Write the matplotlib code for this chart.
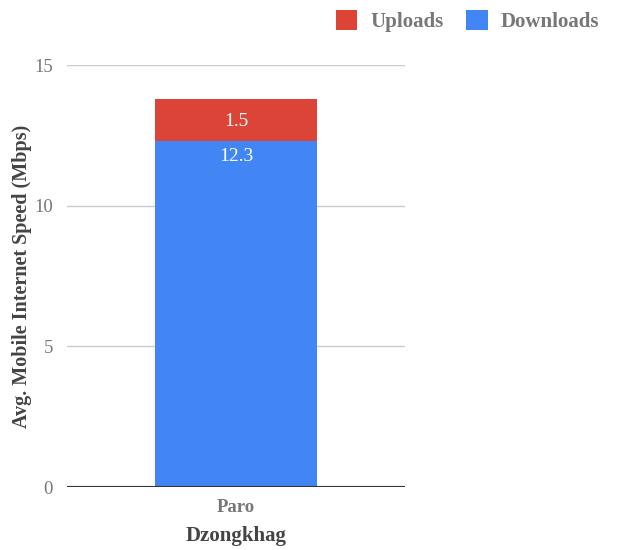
import matplotlib
matplotlib.use("Agg")
import matplotlib.pyplot as plt
from matplotlib.patches import Patch

categories = ["Paro"]
downloads = [12.3]
uploads = [1.5]
yticks = [0, 5, 10, 15]

plt.rcParams['font.family'] = ['Liberation Serif', 'DejaVu Serif']

fig = plt.figure(figsize=(6.24, 5.5), dpi=100)
ax = fig.add_axes([67/624, 1-487/550, (405-67)/624, (487-65)/550])

red = "#db4437"
blue = "#4285f4"
x = list(range(len(categories)))
w = 0.482
b1 = ax.bar(x, downloads, width=w, color=blue, zorder=3)
b2 = ax.bar(x, uploads, width=w, bottom=downloads, color=red, zorder=3)

for i in x:
    ax.text(i, downloads[i] + uploads[i] / 2 - 0.05, f"{uploads[i]}", ha="center", va="center",
            color="white", fontsize=14, zorder=4)
    ax.text(i, downloads[i] - 0.25, f"{downloads[i]}", ha="center", va="top",
            color="white", fontsize=14, zorder=4)

ax.set_xlim(-0.5, 0.5)
ax.set_ylim(0, 15)
ax.set_yticks(yticks)
ax.set_yticklabels([str(t) for t in yticks])
ax.set_xticks(x)
ax.set_xticklabels(categories, fontweight="bold", color="#777777", fontsize=13.5)
ax.tick_params(axis="y", length=0, pad=10, labelcolor="#777777", labelsize=13.5)
ax.tick_params(axis="x", length=0, pad=9)
ax.grid(axis="y", color="#cccccc", linewidth=1, zorder=0)
for s in ax.spines.values():
    s.set_visible(False)
ax.axhline(0, color="#333333", linewidth=1.5, zorder=5)

ax.set_ylabel("Avg. Mobile Internet Speed (Mbps)", fontweight="bold", color="#444444",
              fontsize=14.5, labelpad=2)
ax.set_xlabel("Dzongkhag", fontweight="bold", color="#444444", fontsize=15, labelpad=7)

handles = [Patch(facecolor=red, edgecolor="none"), Patch(facecolor=blue, edgecolor="none")]
leg = fig.legend(handles, ["Uploads", "Downloads"], loc="upper right",
                 bbox_to_anchor=(0.99, 1.015), ncol=2, frameon=False,
                 prop={"weight": "bold", "size": 15}, handlelength=1.05, handleheight=1.05,
                 columnspacing=1.1, handletextpad=0.6)
for t in leg.get_texts():
    t.set_color("#777777")

fig.savefig("out.png", dpi=100)
